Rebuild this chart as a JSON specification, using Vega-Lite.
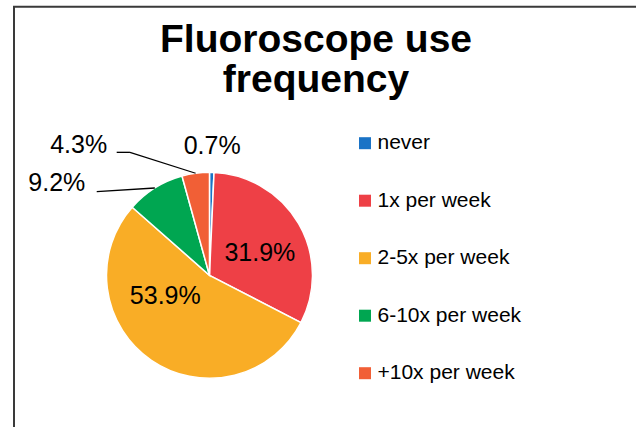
{
  "$schema": "https://vega.github.io/schema/vega-lite/v6.json",
  "width": 632,
  "height": 430.3,
  "autosize": {"type": "none"},
  "padding": {"left": 14, "top": 6.7, "right": -10, "bottom": -10},
  "background": "white",
  "config": {
    "view": {"stroke": "#3a3a3a", "strokeWidth": 2},
    "font": "Liberation Sans"
  },
  "title": {
    "text": ["Fluoroscope use", "frequency"],
    "font": "Liberation Sans",
    "fontSize": 39,
    "fontWeight": "bold",
    "color": "black",
    "anchor": "middle",
    "baseline": "alphabetic",
    "lineHeight": 40,
    "offset": 0,
    "dx": -14,
    "dy": 124
  },
  "data": {
    "values": [
      {"category": "never", "value": 0.7},
      {"category": "1x per week", "value": 31.9},
      {"category": "2-5x per week", "value": 53.9},
      {"category": "6-10x per week", "value": 9.2},
      {"category": "+10x per week", "value": 4.3}
    ]
  },
  "transform": [
    {"window": [{"op": "row_number", "as": "idx"}]},
    {"calculate": "format(datum.value, '.1f') + '%'", "as": "label"}
  ],
  "layer": [
    {
      "mark": {"type": "arc", "radius": 103, "stroke": "white", "strokeWidth": 1.5},
      "encoding": {
        "x": {"datum": 0, "type": "quantitative", "scale": {"domain": [-1.898, 4.238], "nice": false, "zero": false}, "axis": null},
        "y": {"datum": 0, "type": "quantitative", "scale": {"domain": [-1.570, 2.608], "nice": false, "zero": false}, "axis": null},
        "theta": {"field": "value", "type": "quantitative", "stack": true},
        "order": {"field": "idx", "type": "quantitative"},
        "color": {
          "field": "category",
          "type": "nominal",
          "scale": {
            "domain": ["never", "1x per week", "2-5x per week", "6-10x per week", "+10x per week"],
            "range": ["#1A73C6", "#EE4046", "#F9AD26", "#00A651", "#F15F36"]
          },
          "legend": {
            "title": null,
            "orient": "none",
            "legendX": 340.5,
            "legendY": 126,
            "padding": 0,
            "symbolType": "square",
            "symbolSize": 144,
            "symbolStrokeWidth": 0,
            "labelFont": "Liberation Sans",
            "labelFontSize": 21,
            "labelColor": "black",
            "labelOffset": 2,
            "labelLimit": 300,
            "rowPadding": 35.5
          }
        }
      }
    },
    {
      "mark": {"type": "text", "radius": 121, "fontSize": 25, "align": "center", "baseline": "alphabetic", "color": "black"},
      "encoding": {
        "x": {"datum": 0, "type": "quantitative", "scale": {"domain": [-1.898, 4.238], "nice": false, "zero": false}, "axis": null},
        "y": {"datum": 0, "type": "quantitative", "scale": {"domain": [-1.570, 2.608], "nice": false, "zero": false}, "axis": null},
        "theta": {"field": "value", "type": "quantitative", "stack": true},
        "order": {"field": "idx", "type": "quantitative"},
        "text": {"condition": {"test": "datum.category === 'never'", "field": "label", "type": "nominal"}, "value": ""}
      }
    },
    {
      "mark": {"type": "text", "radius": 57, "fontSize": 25, "align": "center", "baseline": "alphabetic", "color": "black", "dx": 1, "dy": 14},
      "encoding": {
        "x": {"datum": 0, "type": "quantitative", "scale": {"domain": [-1.898, 4.238], "nice": false, "zero": false}, "axis": null},
        "y": {"datum": 0, "type": "quantitative", "scale": {"domain": [-1.570, 2.608], "nice": false, "zero": false}, "axis": null},
        "theta": {"field": "value", "type": "quantitative", "stack": true},
        "order": {"field": "idx", "type": "quantitative"},
        "text": {"condition": {"test": "datum.category === '1x per week'", "field": "label", "type": "nominal"}, "value": ""}
      }
    },
    {
      "mark": {"type": "text", "radius": 57, "fontSize": 25, "align": "center", "baseline": "alphabetic", "color": "black", "dx": -12, "dy": -18},
      "encoding": {
        "x": {"datum": 0, "type": "quantitative", "scale": {"domain": [-1.898, 4.238], "nice": false, "zero": false}, "axis": null},
        "y": {"datum": 0, "type": "quantitative", "scale": {"domain": [-1.570, 2.608], "nice": false, "zero": false}, "axis": null},
        "theta": {"field": "value", "type": "quantitative", "stack": true},
        "order": {"field": "idx", "type": "quantitative"},
        "text": {"condition": {"test": "datum.category === '2-5x per week'", "field": "label", "type": "nominal"}, "value": ""}
      }
    },
    {
      "mark": {"type": "text", "radius": 121, "fontSize": 25, "align": "right", "baseline": "alphabetic", "color": "black", "dx": -86, "dy": -2},
      "encoding": {
        "x": {"datum": 0, "type": "quantitative", "scale": {"domain": [-1.898, 4.238], "nice": false, "zero": false}, "axis": null},
        "y": {"datum": 0, "type": "quantitative", "scale": {"domain": [-1.570, 2.608], "nice": false, "zero": false}, "axis": null},
        "theta": {"field": "value", "type": "quantitative", "stack": true},
        "order": {"field": "idx", "type": "quantitative"},
        "text": {"condition": {"test": "datum.category === '+10x per week'", "field": "label", "type": "nominal"}, "value": ""}
      }
    },
    {
      "mark": {"type": "text", "radius": 121, "fontSize": 25, "align": "right", "baseline": "alphabetic", "color": "black", "dx": -60, "dy": 18},
      "encoding": {
        "x": {"datum": 0, "type": "quantitative", "scale": {"domain": [-1.898, 4.238], "nice": false, "zero": false}, "axis": null},
        "y": {"datum": 0, "type": "quantitative", "scale": {"domain": [-1.570, 2.608], "nice": false, "zero": false}, "axis": null},
        "theta": {"field": "value", "type": "quantitative", "stack": true},
        "order": {"field": "idx", "type": "quantitative"},
        "text": {"condition": {"test": "datum.category === '6-10x per week'", "field": "label", "type": "nominal"}, "value": ""}
      }
    },
    {
      "transform": [
        {"window": [{"op": "sum", "field": "value", "as": "cum"}]},
        {"joinaggregate": [{"op": "sum", "field": "value", "as": "total"}]},
        {"calculate": "2 * PI * (datum.cum - datum.value / 2) / datum.total", "as": "mid"},
        {"filter": "datum.category === '+10x per week' || datum.category === '6-10x per week'"},
        {"calculate": "sin(datum.mid)", "as": "sx"},
        {"calculate": "cos(datum.mid)", "as": "sy"},
        {"calculate": "datum.category === '+10x per week' ? -0.772 : -1.095", "as": "ex"},
        {"calculate": "datum.category === '+10x per week' ? 1.194 : 0.812", "as": "ey"},
        {"calculate": "datum.category === '+10x per week' ? -0.901 : -1.095", "as": "tx"}
      ],
      "layer": [
        {
          "mark": {"type": "rule", "color": "black", "strokeWidth": 1.3},
          "encoding": {
            "x": {"field": "sx", "type": "quantitative", "scale": {"domain": [-1.898, 4.238], "nice": false, "zero": false}, "axis": null},
            "y": {"field": "sy", "type": "quantitative", "scale": {"domain": [-1.570, 2.608], "nice": false, "zero": false}, "axis": null},
            "x2": {"field": "ex"},
            "y2": {"field": "ey"}
          }
        },
        {
          "mark": {"type": "rule", "color": "black", "strokeWidth": 1.3},
          "encoding": {
            "x": {"field": "ex", "type": "quantitative", "scale": {"domain": [-1.898, 4.238], "nice": false, "zero": false}, "axis": null},
            "y": {"field": "ey", "type": "quantitative", "scale": {"domain": [-1.570, 2.608], "nice": false, "zero": false}, "axis": null},
            "x2": {"field": "tx"}
          }
        }
      ]
    }
  ]
}
